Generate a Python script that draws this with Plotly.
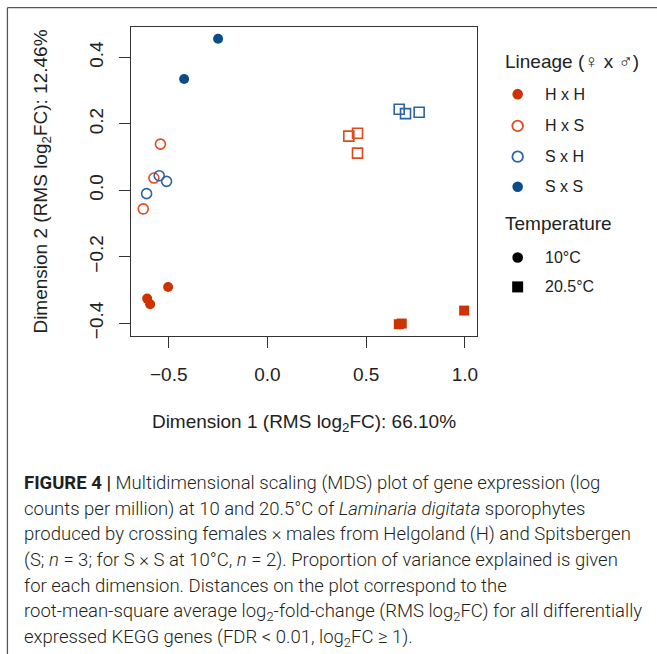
import plotly.graph_objects as go

W, H = 657, 654
# plot area in pixels
L, R, T, B = 130.7, 477.0, 27.3, 335.7

# ---- data (Dimension 1, Dimension 2) ----
hxh_10_x = [-0.503, -0.609, -0.594]
hxh_10_y = [-0.291, -0.326, -0.343]
hxh_20_x = [0.996, 0.665, 0.680]
hxh_20_y = [-0.362, -0.403, -0.401]
hxs_10_x = [-0.542, -0.575, -0.629]
hxs_10_y = [0.139, 0.037, -0.056]
hxs_20_x = [0.412, 0.456, 0.456]
hxs_20_y = [0.163, 0.172, 0.112]
sxh_10_x = [-0.548, -0.511, -0.612]
sxh_10_y = [0.044, 0.027, -0.010]
sxh_20_x = [0.667, 0.699, 0.768]
sxh_20_y = [0.244, 0.231, 0.235]
sxs_10_x = [-0.250, -0.422]
sxs_10_y = [0.456, 0.335]

lineages = ["H x H", "H x S", "S x H", "S x S"]
temperatures = ["10°C", "20.5°C"]
x_ticks = [-0.5, 0.0, 0.5, 1.0]
y_ticks = [-0.4, -0.2, 0.0, 0.2, 0.4]

C_HH = "#cc3300"
C_HS = "#e04a1c"
C_SH = "#2a62a6"
C_SS = "#0b4c8c"

FONT = "Liberation Sans, Arial, sans-serif"

fig = go.Figure()

def add(x, y, name, color, symbol, filled, size):
    if filled:
        marker = dict(symbol=symbol, size=size, color=color, line=dict(width=0))
    else:
        marker = dict(symbol=symbol + "-open", size=size, color=color, line=dict(width=1.6, color=color))
    fig.add_trace(go.Scatter(x=x, y=y, mode="markers", name=name, marker=marker,
                             showlegend=False, hoverinfo="x+y+name"))

add(hxh_10_x, hxh_10_y, "H x H, 10°C", C_HH, "circle", True, 10)
add(hxh_20_x, hxh_20_y, "H x H, 20.5°C", C_HH, "square", True, 10)
add(hxs_10_x, hxs_10_y, "H x S, 10°C", C_HS, "circle", False, 10)
add(hxs_20_x, hxs_20_y, "H x S, 20.5°C", C_HS, "square", False, 10)
add(sxh_10_x, sxh_10_y, "S x H, 10°C", C_SH, "circle", False, 10)
add(sxh_20_x, sxh_20_y, "S x H, 20.5°C", C_SH, "square", False, 10)
add(sxs_10_x, sxs_10_y, "S x S, 10°C", C_SS, "circle", True, 10)

def px(xp):
    return (xp - L) / (R - L)

def py(yp):
    return (B - yp) / (B - T)

axis_common = dict(showline=True, linecolor="#333333", linewidth=1.3, mirror=True,
                   ticks="outside", ticklen=11, tickwidth=1.3, tickcolor="#333333",
                   showgrid=False, zeroline=False, tickfont=dict(family=FONT, size=19, color="#222222"),
                   tickformat=".1f")

fig.update_layout(
    width=W, height=H,
    margin=dict(l=L, r=W - R, t=T, b=H - B, pad=0),
    paper_bgcolor="white", plot_bgcolor="white",
    font=dict(family=FONT, color="#222222"),
    xaxis=dict(range=[-0.691, 1.061], tickvals=x_ticks, ticklabelstandoff=10,
               title=dict(text="Dimension 1 (RMS log<sub>2</sub>FC): 66.10%",
                          font=dict(family=FONT, size=19, color="#222222"), standoff=30),
               **axis_common),
    yaxis=dict(range=[-0.4385, 0.4916], tickvals=y_ticks, tickangle=-90, ticklabelstandoff=8,
               title=dict(text="Dimension 2 (RMS log<sub>2</sub>FC): 12.46%",
                          font=dict(family=FONT, size=19, color="#222222"), standoff=33),
               **axis_common),
)

# ---- legend drawn manually ----
shapes = []
annos = []
LEG_MX = 517.7
LEG_TX = 542.7
annos.append(dict(text="Lineage (♀ x ♂)", x=px(503), y=py(62), xanchor="left", yanchor="middle",
                  font=dict(family=FONT, size=19, color="#222222")))
leg_items = [(lineages[0], C_HH, True, 94.3), (lineages[1], C_HS, False, 126.0),
             (lineages[2], C_SH, False, 156.7), (lineages[3], C_SS, True, 186.7)]
for name, col, filled, yy in leg_items:
    r = 5.3
    shapes.append(dict(type="circle", xref="paper", yref="paper",
                       x0=px(LEG_MX - r), x1=px(LEG_MX + r), y0=py(yy + r), y1=py(yy - r),
                       fillcolor=col if filled else "rgba(0,0,0,0)",
                       line=dict(color=col, width=0 if filled else 1.8)))
    annos.append(dict(text=name, x=px(LEG_TX), y=py(yy), xanchor="left", yanchor="middle",
                      font=dict(family=FONT, size=16, color="#222222")))
annos.append(dict(text="Temperature", x=px(503), y=py(223.3), xanchor="left", yanchor="middle",
                  font=dict(family=FONT, size=19, color="#222222")))
r = 5.3
shapes.append(dict(type="circle", xref="paper", yref="paper",
                   x0=px(LEG_MX - r), x1=px(LEG_MX + r), y0=py(257.3 + r), y1=py(257.3 - r),
                   fillcolor="black", line=dict(width=0)))
annos.append(dict(text=temperatures[0], x=px(LEG_TX), y=py(257.3), xanchor="left", yanchor="middle",
                  font=dict(family=FONT, size=16, color="#222222")))
s = 5.5
shapes.append(dict(type="rect", xref="paper", yref="paper",
                   x0=px(LEG_MX - s), x1=px(LEG_MX + s), y0=py(286.7 + s), y1=py(286.7 - s),
                   fillcolor="black", line=dict(width=0)))
annos.append(dict(text=temperatures[1], x=px(LEG_TX), y=py(286.7), xanchor="left", yanchor="middle",
                  font=dict(family=FONT, size=16, color="#222222")))

# ---- frame lines (top and left) ----
shapes.append(dict(type="line", xref="paper", yref="paper", x0=px(7), x1=px(660), y0=py(8), y1=py(8),
                   line=dict(color="#555555", width=1.3)))
shapes.append(dict(type="line", xref="paper", yref="paper", x0=px(7), x1=px(7), y0=py(8), y1=py(660),
                   line=dict(color="#555555", width=1.3)))

# ---- caption ----
caption_lines = [
    "<b>FIGURE 4 |</b> Multidimensional scaling (MDS) plot of gene expression (log",
    "counts per million) at 10 and 20.5°C of <i>Laminaria digitata</i> sporophytes",
    "produced by crossing females × males from Helgoland (H) and Spitsbergen",
    "(S; <i>n</i> = 3; for S × S at 10°C, <i>n</i> = 2). Proportion of variance explained is given",
    "for each dimension. Distances on the plot correspond to the",
    "root-mean-square average log<sub>2</sub>-fold-change (RMS log<sub>2</sub>FC) for all differentially",
    "expressed KEGG genes (FDR &lt; 0.01, log<sub>2</sub>FC ≥ 1).",
]
cap_y0 = 482
cap_dy = 25.9
for i, line in enumerate(caption_lines):
    annos.append(dict(text=line, x=px(22), y=py(cap_y0 + i * cap_dy), xanchor="left", yanchor="middle",
                      font=dict(family="Roboto, sans-serif", size=18.5, weight=300, color="#231f20")))

for a in annos:
    a.setdefault("xref", "paper")
    a.setdefault("yref", "paper")
    a["showarrow"] = False
fig.update_layout(shapes=shapes, annotations=annos)

fig.write_html("out.html")
